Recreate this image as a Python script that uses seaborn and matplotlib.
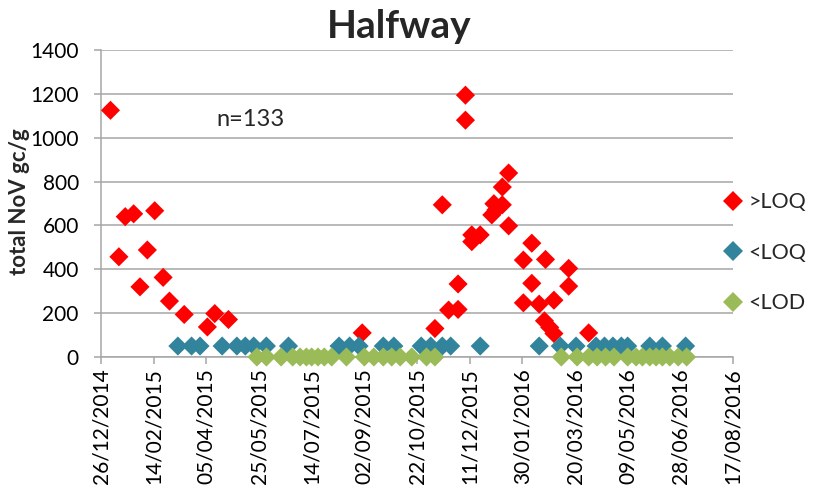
import matplotlib
matplotlib.use("Agg")
import matplotlib.pyplot as plt
import matplotlib.dates as mdates
import seaborn as sns
import pandas as pd
import numpy as np

# ---- data (days since 26/12/2014, total NoV gc/g) ----
base_date = "2014-12-26"
loq_above_days = [9, 17, 23, 31, 37, 44, 51, 59, 65, 79, 101, 108, 121,
                  248, 317, 324, 330, 339, 339, 346, 346, 352, 352, 360,
                  371, 373, 375, 381, 381, 387, 387, 401, 401, 409, 409,
                  416, 422, 421, 426, 430, 430, 444, 444, 463]
loq_above_vals = [1125, 457, 640, 653, 320, 488, 667, 363, 255, 194, 137, 198, 171,
                  110, 130, 694, 214, 333, 217, 1194, 1080, 557, 526, 557,
                  648, 699, 671, 694, 775, 839, 598, 442, 247, 519, 336,
                  241, 445, 165, 135, 107, 259, 404, 323, 110]

loq_below_days = [73, 86, 94, 115, 129, 137, 145, 157, 178,
                  226, 236, 245, 268, 278, 304, 313, 324, 332,
                  360, 416, 436, 451, 470, 478, 486, 494, 500, 521, 533, 555]
loq_below_vals = [50] * len(loq_below_days)

lod_below_days = [148, 157, 171, 182, 189, 195, 200, 206, 212, 219, 233,
                  250, 259, 268, 276, 284, 295, 309, 317,
                  437, 452, 463, 471, 479, 487, 500, 508, 514, 521, 527,
                  533, 540, 548, 556]
lod_below_vals = [0] * len(lod_below_days)

labels = [">LOQ", "<LOQ", "<LOD"]
colors = ["#FF0000", "#31849B", "#9BBB59"]

t0 = pd.Timestamp(base_date)
frames = []
for lab, d, v in zip(labels,
                     [loq_above_days, loq_below_days, lod_below_days],
                     [loq_above_vals, loq_below_vals, lod_below_vals]):
    frames.append(pd.DataFrame({"date": t0 + pd.to_timedelta(d, unit="D"),
                                "value": v, "group": lab}))
df = pd.concat(frames, ignore_index=True)

sns.set_style("white")
plt.rcParams["font.family"] = ["Lato", "DejaVu Sans"]

fig = plt.figure(figsize=(8.13, 4.94), dpi=100)
ax = fig.add_axes([101 / 813, 1 - 357 / 494, 632 / 813, 307 / 494])

sns.scatterplot(data=df, x="date", y="value", hue="group", hue_order=labels,
                palette=colors, marker="D", s=95, linewidth=0, ax=ax,
                clip_on=False, zorder=3)

ax.set_ylim(0, 1400)
ax.set_yticks(np.arange(0, 1401, 200))
start = pd.Timestamp("2014-12-26")
end = pd.Timestamp("2016-08-17")
ax.set_xlim(start, end)
ticks = [start + pd.Timedelta(days=50 * k) for k in range(13)]
ax.set_xticks(ticks)
ax.xaxis.set_major_formatter(mdates.DateFormatter("%d/%m/%Y"))
plt.setp(ax.get_xticklabels(), rotation=90)

grid_c = "#A6A6A6"
ax.grid(axis="y", color=grid_c, linewidth=1.1)
ax.grid(axis="x", visible=False)
ax.set_axisbelow(True)
for side in ["top", "right"]:
    ax.spines[side].set_visible(False)
for side in ["left", "bottom"]:
    ax.spines[side].set_color(grid_c)
    ax.spines[side].set_linewidth(1.1)
ax.tick_params(axis="both", which="major", length=5, width=1.1, color=grid_c,
               labelsize=15, labelcolor="black")
ax.tick_params(axis="x", direction="out", bottom=True, pad=3)
ax.tick_params(axis="y", direction="out", left=True, pad=11)

ax.set_xlabel("")
ax.set_ylabel("")
fig.text(19 / 813, 1 - 202 / 494, "total NoV gc/g", rotation=90, ha="center",
         va="center", fontsize=16, fontweight="bold")
fig.text(399 / 813, 1 - 38 / 494, "Halfway", ha="center", va="baseline",
         fontsize=28, fontweight="bold")
ax.text(0.237, 0.772, "n=133", transform=ax.transAxes, ha="center",
        va="center", fontsize=17)

handles, labs = ax.get_legend_handles_labels()
ax.legend(handles, labs, loc="upper left", bbox_to_anchor=(711 / 813, 1 - 183.6 / 494),
          bbox_transform=fig.transFigure, frameon=False, fontsize=15.5,
          labelspacing=1.42, handletextpad=0.15, handlelength=1.2,
          markerscale=1.0, borderaxespad=0)

fig.savefig("out.png", dpi=100)
